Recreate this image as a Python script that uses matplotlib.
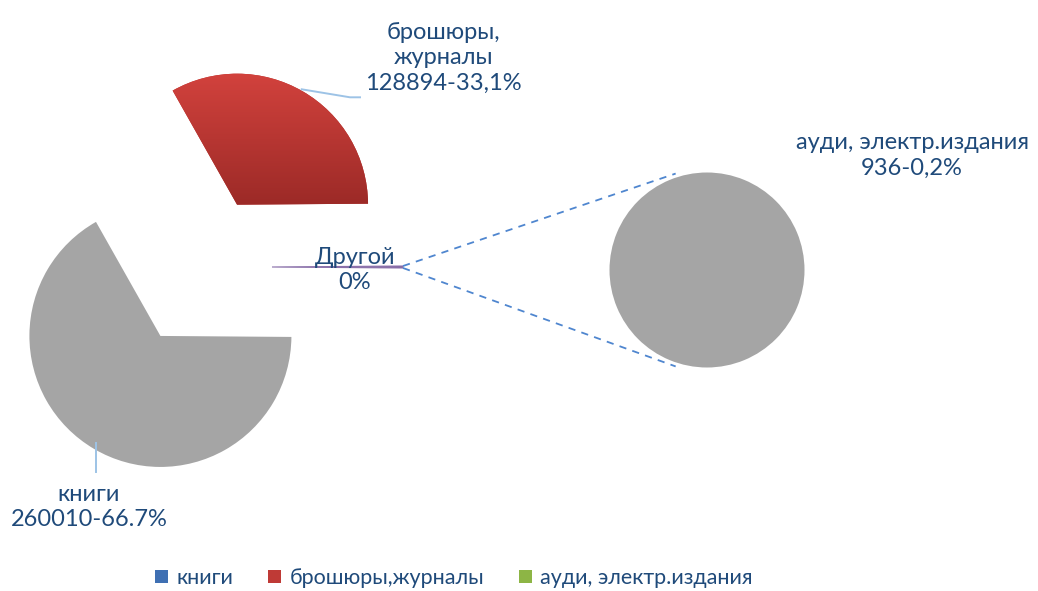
import numpy as np
import matplotlib
matplotlib.use("Agg")
import matplotlib.pyplot as plt
from matplotlib.patches import Patch
from matplotlib.colors import LinearSegmentedColormap

plt.rcParams['font.family'] = ['Lato', 'Open Sans', 'DejaVu Sans']

# data
categories = ['книги', 'брошюры,журналы', 'ауди, электр.издания']
values = [260010, 128894, 936]
label_texts = ['книги\n260010-66.7%', 'брошюры,\nжурналы\n128894-33,1%',
               'ауди, электр.издания\n936-0,2%']
other_label = 'Другой\n0%'

W, H = 1038, 591
TXT = '#1F4A7A'
GREY = '#A5A5A5'

fig = plt.figure(figsize=(W / 100, H / 100), dpi=100)
ax = fig.add_axes([0, 0, 1, 1])

# main pie: brochures, books, "other" (which is expanded in second pie)
main_vals = [values[1], values[0], values[2]]
other_frac = values[2] / sum(values)
main_c = (201, H - 267)
main_r = 131
wedges, _ = ax.pie(main_vals, center=main_c, radius=main_r,
                   explode=[72, 80, 71], startangle=other_frac * 180,
                   colors=['#B83531', GREY, '#7F62A0'],
                   wedgeprops=dict(linewidth=0))
red_w, grey_w, oth_w = wedges
oth_w.set_edgecolor('#8A70AA')
oth_w.set_linewidth(0.8)

# gradient fill on the red slice
cx, cy = red_w.center
grad = np.linspace(0, 1, 256).reshape(-1, 1)
cmap = LinearSegmentedColormap.from_list('r', ['#D2423D', '#9C2A27'])
im = ax.imshow(grad, cmap=cmap, aspect='auto', origin='upper',
               extent=[cx - main_r, cx + main_r, cy, cy + main_r], zorder=2)
im.set_clip_path(red_w)

# second pie
sec_c = (707, H - 270)
sec_r = 97.5
ax.pie([values[2]], center=sec_c, radius=sec_r, colors=[GREY],
       wedgeprops=dict(linewidth=0))

# connector lines from the "other" slice to the second pie
ocx, ocy = oth_w.center
for th, th2 in [(oth_w.theta2, 108), (oth_w.theta1, 252)]:
    x0 = ocx + main_r * np.cos(np.radians(th))
    y0 = ocy + main_r * np.sin(np.radians(th))
    x1 = sec_c[0] + sec_r * 1.04 * np.cos(np.radians(th2))
    y1 = sec_c[1] + sec_r * 1.04 * np.sin(np.radians(th2))
    ax.plot([x0, x1], [y0, y1], color='#4F86CF', lw=1.3,
            linestyle=(0, (4, 3.5)), zorder=3)

# leader lines
ax.plot([301.7, 350, 360], [H - 89.3, H - 97.3, H - 97.3],
        color='#9DC3E6', lw=1.4, zorder=3)
ax.plot([96, 96], [H - 443, H - 472], color='#9DC3E6', lw=1.4, zorder=3)

# data labels
fs = 17
ax.text(443, H - 58, label_texts[1], ha='center', va='center',
        fontsize=fs, color=TXT, linespacing=1.28)
ax.text(912, H - 155, label_texts[2], ha='center', va='center',
        fontsize=fs, color=TXT, linespacing=1.28)
ax.text(89, H - 507, label_texts[0], ha='center', va='center',
        fontsize=fs, color=TXT, linespacing=1.28)
ax.text(355, H - 270, other_label, ha='center', va='center',
        fontsize=fs, color=TXT, linespacing=1.28)

# legend
handles = [Patch(facecolor=c, edgecolor='none')
           for c in ['#3F70B3', '#BF3A36', '#8DB545']]
leg = fig.legend(handles, categories, loc='center',
                 bbox_to_anchor=(454 / W, 1 - 578 / H), ncol=3,
                 frameon=False, fontsize=15.5, handlelength=0.6,
                 handleheight=0.6, handletextpad=0.4, columnspacing=1.6)
for t in leg.get_texts():
    t.set_color(TXT)

ax.set_xlim(0, W)
ax.set_ylim(0, H)
ax.set_aspect('equal')
ax.axis('off')

fig.savefig('out.png', dpi=100, facecolor='white')
